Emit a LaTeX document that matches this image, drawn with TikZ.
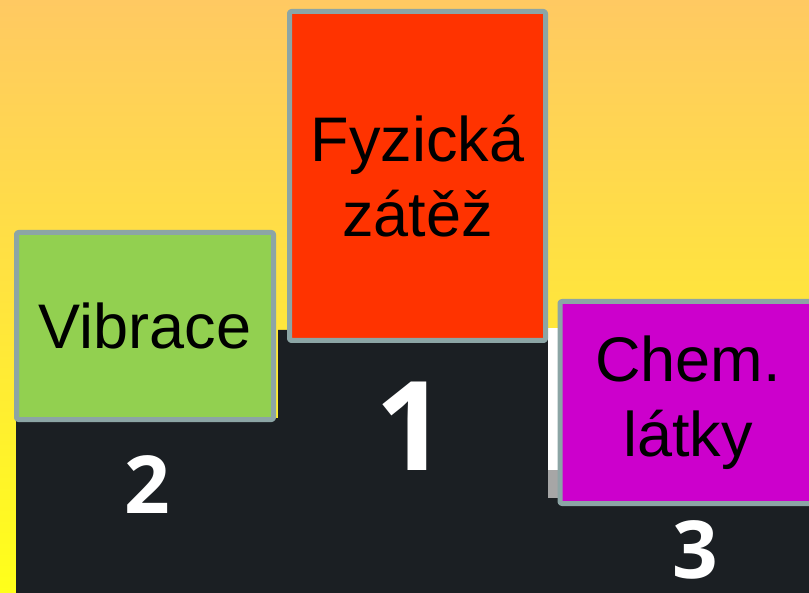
\documentclass[tikz,border=0pt]{standalone}
\usepackage{fontspec}
\setmainfont{Liberation Sans}
\newfontfamily\podiumfont{Open Sans}
\definecolor{podSkyTop}{RGB}{255,201,98}
\definecolor{podSkyBottom}{RGB}{255,255,26}
\definecolor{podStand}{RGB}{27,31,35}
\definecolor{podBorder}{RGB}{140,165,165}
\definecolor{podGreen}{RGB}{146,208,80}
\definecolor{podRed}{RGB}{255,51,0}
\definecolor{podMagenta}{RGB}{204,0,204}
\tikzset{
  placebox/.style={draw=podBorder, line width=2.5pt, rounded corners=1pt,
    align=center, inner sep=0pt, text=black,
    font=\fontsize{31.5}{37.5}\selectfont},
  placenum/.style={text=white, inner sep=0pt, font=\podiumfont\bfseries}
}
\begin{document}
\begin{tikzpicture}
% Podium picture, coordinates in pixels of the original
\def\pxsz{0.5pt}
\begin{scope}[x=\pxsz, y=-\pxsz, line join=round]
  \useasboundingbox (0,0) rectangle (809,593);
  \clip (0,0) rectangle (809,593);
  % Background
  \shade[top color=podSkyTop, bottom color=podSkyBottom] (0,0) rectangle (809,593);
  % Stand
  \fill[podStand] (16,593) -- (16,418) -- (278,418) -- (278,330) -- (548,330)
    -- (548,498) -- (809,498) -- (809,593) -- cycle;
  % Gap beside the first place
  \fill[white] (548,328) rectangle (560,470);
  \fill[black!35] (548,470) rectangle (560,498);
  % Place numbers
  \node[placenum, font=\podiumfont\bfseries\fontsize{62}{62}\selectfont] (first) at (411,426) {1};
  \node[placenum, font=\podiumfont\bfseries\fontsize{40}{40}\selectfont] (second) at (147,485) {2};
  \node[placenum, font=\podiumfont\bfseries\fontsize{40}{40}\selectfont] (third) at (695,550) {3};
  % Boxes
  \node[placebox, fill=podRed, minimum width=128pt, minimum height=164.5pt] (physical) at (417.5,176) {Fyzická\\zátěž};
  \node[placebox, fill=podGreen, minimum width=128.5pt, minimum height=93.5pt] (vibration) at (145,326) {Vibrace};
  \node[placebox, fill=podMagenta, minimum width=128pt, minimum height=101pt] (chemical) at (688,402.5) {Chem.\\látky};
\end{scope}
\end{tikzpicture}
\end{document}
